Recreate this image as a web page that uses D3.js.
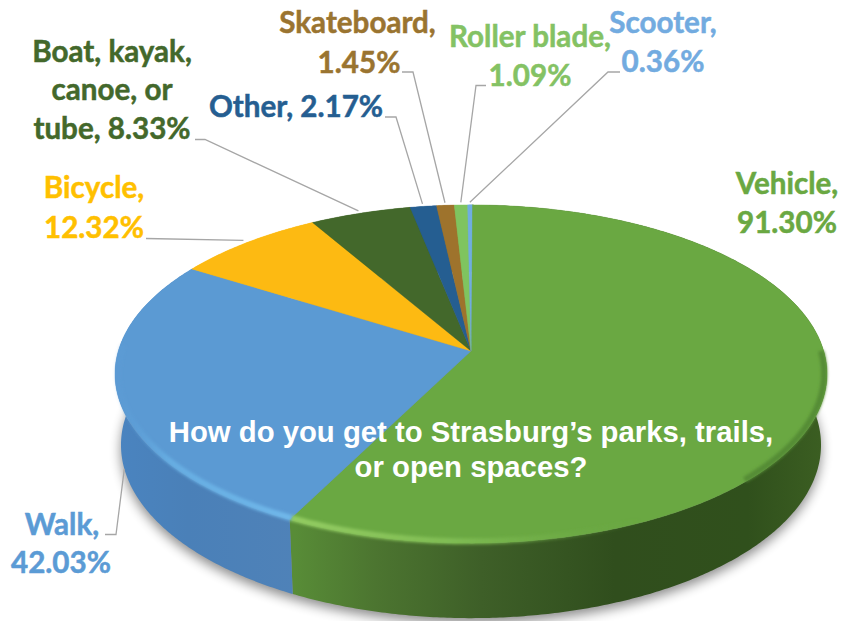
<!DOCTYPE html>
<html><head><meta charset="utf-8">
<script src="https://cdn.jsdelivr.net/npm/d3@7"></script>
<style>html,body{margin:0;padding:0;background:#fff}svg{display:block}</style>
</head><body><svg id="c" width="846" height="621"></svg>
<script>
const categories = ["Vehicle","Walk","Bicycle","Boat, kayak, canoe, or tube","Other","Skateboard","Roller blade","Scooter"];
const values = [91.30,42.03,12.32,8.33,2.17,1.45,1.09,0.36];
const valueLabels = ["91.30%","42.03%","12.32%","8.33%","2.17%","1.45%","1.09%","0.36%"];
const sliceColors = ["#6aa842","#5b9ad3","#fdba12","#43682b","#255e91","#9e732c","#7fc45f","#70ade0"];
const labelColors = ["#6aa842","#5b9bd5","#ffc000","#43682b","#255e91","#9a7430","#84c264","#72abe0"];
const chartTitle = ["How do you get to Strasburg’s parks, trails,","or open spaces?"];

// label layout: one entry per category
const labelLines = [
  [["Vehicle,",787,194],["91.30%",787,233]],
  [["Walk,",62,535],["42.03%",61,573]],
  [["Bicycle,",94,198],["12.32%",94,238]],
  [["Boat, kayak,",112,62],["canoe, or",112,100],["tube, 8.33%",112,139]],
  [["Other, 2.17%",296,117]],
  [["Skateboard,",357.5,33],["1.45%",359,73]],
  [["Roller blade,",530,47],["1.09%",530,86]],
  [["Scooter,",663,33],["0.36%",663,72]]
];
const leaderStarts = [null,[[105,534.5],[116,534.5]],[[146,238.5]],[[195,139.5],[205,139.5]],[[385,117],[396,117]],[[402,72],[413,72]],[[486,85.5],[476,85.5]],[[620,72],[608,72]]];

const svg = d3.select("#c");
const defs = svg.append("defs");
const cx=471, cy=351, k=0.136, S=352.7, T=166, ellCy=374, botCy=445, scX=350/356, scY=173/169;
const deg=Math.PI/180;
const sx=d3.scaleLinear().domain([-1,1]).range([cx-S,cx+S]);
const sy=d3.scaleLinear().domain([-1,1]).range([cy-T,cy+T]);
function topPt(th,r=1){const u=r*Math.sin(th),v=-r*Math.cos(th),w=1-k*v;return [sx(u/w),sy(v/w)];}
function botPt(th,r=1){const p=topPt(th,r);return [cx+scX*(p[0]-cx),botCy+scY*(p[1]-ellCy)];}
const lineGen=d3.line().curve(d3.curveLinear);
const samples=(a,b,f)=>{const n=Math.max(2,Math.ceil(Math.abs(b-a)/(0.5*deg)));return d3.range(n+1).map(i=>f(a+(b-a)*i/n));};

const pieGen=d3.pie().sort(null).startAngle(0.2*deg).endAngle(360.2*deg);
const arcs=pieGen(values);

function grad(id,x1,x2,stops){
  const g=defs.append("linearGradient").attr("id",id).attr("gradientUnits","userSpaceOnUse")
    .attr("x1",x1).attr("x2",x2).attr("y1",0).attr("y2",0);
  stops.forEach(s=>{g.append("stop").attr("offset",s[0]).attr("stop-color",s[1]).attr("stop-opacity",s[2]===undefined?1:s[2]);});
}
grad("gWallG",295,828,[[0,"#588c37"],[0.15,"#4c7530"],[0.35,"#3e5f28"],[0.6,"#304e1d"],[0.85,"#30501c"],[1,"#3c5f22"]]);
grad("gWallB",115,297,[[0,"#4a84c0"],[0.4,"#4a80b8"],[1,"#4f82b8"]]);
grad("gRimG",295,640,[[0,"#93cc62"],[0.45,"#80bd54"],[1,"#6aa842",0]]);
grad("gRimB",115,297,[[0,"#5b9bd5",0.2],[0.3,"#66ade2"],[1,"#70b8ea"]]);
const mkBlur=(id,sd)=>defs.append("filter").attr("id",id).attr("x","-10%").attr("y","-15%").attr("width","120%").attr("height","130%")
  .append("feGaussianBlur").attr("stdDeviation",sd);
mkBlur("bShadow",6); mkBlur("bRim",1.8);

// soft shadow under the pie
const full=samples(0,360*deg,t=>botPt(t));
svg.append("path").attr("d",lineGen(full)+"Z").attr("fill","#000").attr("opacity",0.45)
  .attr("transform","translate(0,5)").attr("filter","url(#bShadow)");

// side walls
const wallFill=["url(#gWallG)","url(#gWallB)"];
arcs.forEach((a,i)=>{
  const t=samples(a.startAngle,a.endAngle,th=>topPt(th));
  const b=samples(a.startAngle,a.endAngle,th=>botPt(th)).reverse();
  svg.append("path").attr("d",lineGen(t.concat(b))+"Z").attr("fill",wallFill[i]||sliceColors[i]);
});

// top face
arcs.forEach((a,i)=>{
  const pts=[[cx,cy]].concat(samples(a.startAngle,a.endAngle,th=>topPt(th)));
  svg.append("path").attr("d",lineGen(pts)+"Z").attr("fill",sliceColors[i]).attr("stroke",sliceColors[i]).attr("stroke-width",0.4);
});

// bevel highlights along the front rim
const b0=arcs[0].endAngle;
const rim=(a,b,stroke,w)=>svg.append("path").attr("d",lineGen(samples(a,b,th=>topPt(th,0.992))))
  .attr("fill","none").attr("stroke",stroke).attr("stroke-width",w).attr("filter","url(#bRim)");
rim(90*deg,135*deg,"#558c35",6);
rim(b0,125*deg,"url(#gRimG)",6);
rim(b0,272*deg,"url(#gRimB)",6);

// leaders
const ends=arcs.map((a,i)=>{
  const m=(a.startAngle+a.endAngle)/2;
  return i===1?botPt(m,1.0):topPt(m,1.02);
});
leaderStarts.forEach((s,i)=>{
  if(!s) return;
  svg.append("path").attr("d",lineGen(s.concat([ends[i]]))).attr("fill","none").attr("stroke","#a6a6a6").attr("stroke-width",1.3);
});

// labels
labelLines.forEach((ls,i)=>ls.forEach(l=>{
  svg.append("text").attr("x",l[1]).attr("y",l[2]).attr("text-anchor","middle")
    .attr("font-family","Lato, Carlito, sans-serif").attr("font-weight",700).attr("font-size",29.6)
    .attr("fill",labelColors[i]).attr("stroke",labelColors[i]).attr("stroke-width",0.5).text(l[0]);
}));

// centred title
chartTitle.forEach((t,i)=>svg.append("text").attr("x",471).attr("y",442+35*i).attr("text-anchor","middle")
  .attr("font-family","'Liberation Sans', Arial, sans-serif").attr("font-weight",700).attr("font-size",29.3)
  .attr("fill","#fff").text(t));
</script></body></html>
